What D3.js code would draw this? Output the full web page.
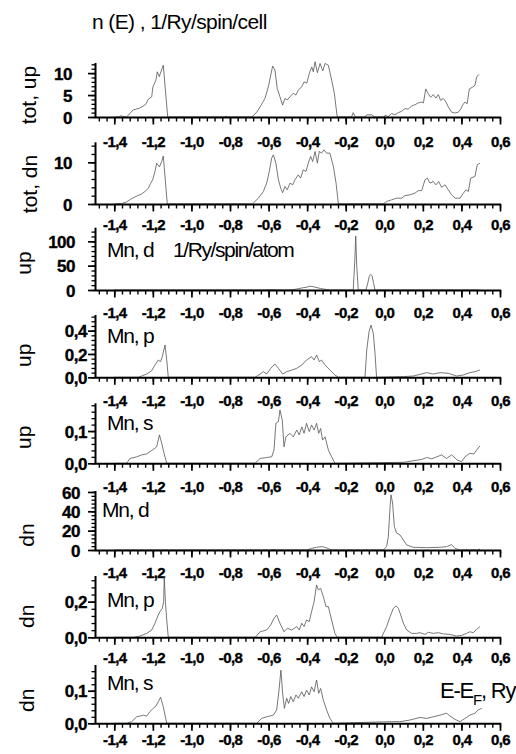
<!DOCTYPE html>
<html><head><meta charset="utf-8">
<script src="https://cdn.jsdelivr.net/npm/d3@7"></script>
<style>
body{margin:0;background:#fff}
svg{display:block}
text{font-family:"Liberation Sans",Arial,sans-serif;fill:#000}
</style>
</head><body>
<svg id="chart" width="516" height="754"></svg>
<script>
// ---------- data ----------
const xTicks = [-1.4,-1.2,-1.0,-0.8,-0.6,-0.4,-0.2,0.0,0.2,0.4,0.6];
const xMinorStep = 0.04;
const yTitles = ["tot, up","tot, dn","up","up","up","dn","dn","dn"];
const partLabels = ["","","Mn, d","Mn, p","Mn, s","Mn, d","Mn, p","Mn, s"];
const yMax = [12.3,14.8,128,0.534,0.186,61,0.344,0.179];
const yMajor = [[0,5,10],[0,10],[0,50,100],[0,0.2,0.4],[0,0.1],[0,20,40,60],[0,0.2],[0,0.1]];
const yMinorStep = [1,2,10,0.04,0.02,4,0.04,0.02];

const totUp = [[-1.40,0],[-1.375,0],[-1.368,0.3],[-1.355,0.1],[-1.336,0],[-1.303,1.6],[-1.27,2.0],[-1.25,2.5],[-1.235,3.0],[-1.225,4.0],[-1.206,4.6],[-1.20,6.8],[-1.184,8.4],[-1.177,10.3],[-1.167,9.2],[-1.146,11.8],[-1.123,0],[-0.83,0],[-0.82,0.15],[-0.81,0],[-0.686,0],[-0.66,1.2],[-0.644,2.3],[-0.619,4.2],[-0.601,6.9],[-0.579,11.6],[-0.567,10.7],[-0.555,6.5],[-0.541,4.6],[-0.527,2.7],[-0.515,4.2],[-0.503,3.9],[-0.489,4.6],[-0.472,5.4],[-0.458,5.0],[-0.446,6.1],[-0.428,6.9],[-0.416,8.0],[-0.402,7.7],[-0.389,9.9],[-0.376,11.4],[-0.368,10.3],[-0.359,12.6],[-0.347,10.1],[-0.333,12.2],[-0.319,10.5],[-0.307,12.2],[-0.29,11.8],[-0.273,8.4],[-0.259,5.4],[-0.244,0],[-0.17,0],[-0.161,1.0],[-0.15,0],[-0.10,0],[-0.091,0.5],[-0.065,0.5],[-0.05,0],[0.0,0],[0.004,0.4],[0.02,0.1],[0.038,0.8],[0.055,0.5],[0.073,1.0],[0.09,1.3],[0.107,1.9],[0.124,1.8],[0.142,2.5],[0.159,2.8],[0.176,3.2],[0.194,3.4],[0.203,3.2],[0.215,6.4],[0.228,5.3],[0.24,4.5],[0.254,5.1],[0.268,4.3],[0.28,5.1],[0.292,3.8],[0.306,4.2],[0.32,3.4],[0.332,2.3],[0.349,1.1],[0.367,0.9],[0.384,1.1],[0.398,1.9],[0.406,2.7],[0.418,3.4],[0.43,3.0],[0.441,6.4],[0.458,6.8],[0.47,7.2],[0.479,9.1],[0.491,9.7]];

const totDn = [[-1.40,0],[-1.362,0.1],[-1.336,0.5],[-1.31,1.3],[-1.284,1.9],[-1.258,2.4],[-1.241,3.0],[-1.223,3.8],[-1.211,5.0],[-1.201,5.8],[-1.189,7.8],[-1.18,9.8],[-1.166,8.9],[-1.154,10.2],[-1.146,11.5],[-1.125,0],[-0.684,0],[-0.653,1.4],[-0.627,3.0],[-0.61,5.0],[-0.596,7.8],[-0.584,11.0],[-0.575,11.8],[-0.562,9.8],[-0.549,5.8],[-0.537,3.8],[-0.527,2.7],[-0.515,4.2],[-0.503,3.4],[-0.489,5.0],[-0.475,4.6],[-0.463,5.8],[-0.446,7.0],[-0.434,6.2],[-0.42,8.2],[-0.406,7.8],[-0.394,9.8],[-0.382,11.4],[-0.371,10.2],[-0.359,12.6],[-0.347,9.8],[-0.337,12.6],[-0.325,12.2],[-0.313,13.0],[-0.299,12.2],[-0.282,12.2],[-0.264,9.0],[-0.25,5.0],[-0.238,0],[-0.005,0],[0.012,0.6],[0.038,1.0],[0.064,1.4],[0.09,1.4],[0.107,2.0],[0.133,2.2],[0.159,2.6],[0.176,3.2],[0.194,3.2],[0.211,5.8],[0.223,6.2],[0.237,5.0],[0.254,5.4],[0.268,4.6],[0.282,5.4],[0.297,4.0],[0.315,4.6],[0.332,3.4],[0.349,2.2],[0.367,1.4],[0.393,1.4],[0.41,2.6],[0.424,3.4],[0.436,3.0],[0.448,6.2],[0.47,6.6],[0.482,9.4],[0.496,9.8]];

const mnDUp = [[-1.40,0],[-0.62,0],[-0.60,0.8],[-0.57,0.5],[-0.55,0],[-0.49,0],[-0.46,1.5],[-0.43,4],[-0.40,6],[-0.385,8],[-0.36,6],[-0.33,3],[-0.30,1],[-0.282,0],[-0.161,0],[-0.153,60],[-0.148,111],[-0.143,50],[-0.135,0],[-0.095,0],[-0.085,15],[-0.078,28],[-0.071,32],[-0.063,29],[-0.056,15],[-0.048,0],[0.49,0]];

const mnPUp = [[-1.40,0],[-1.275,0],[-1.232,0.028],[-1.206,0.057],[-1.189,0.105],[-1.172,0.148],[-1.16,0.134],[-1.151,0.177],[-1.137,0.277],[-1.128,0.148],[-1.12,0],[-0.67,0],[-0.644,0.028],[-0.627,0.048],[-0.61,0.028],[-0.589,0.077],[-0.567,0.114],[-0.549,0.077],[-0.527,0.028],[-0.506,0.048],[-0.48,0.062],[-0.454,0.077],[-0.428,0.105],[-0.403,0.148],[-0.377,0.177],[-0.364,0.148],[-0.351,0.191],[-0.337,0.134],[-0.325,0.148],[-0.307,0.105],[-0.282,0.062],[-0.256,0.02],[-0.238,0],[-0.10,0],[-0.091,0.234],[-0.079,0.391],[-0.069,0.448],[-0.057,0.377],[-0.048,0.205],[-0.04,0],[0.099,0.006],[0.15,0.011],[0.22,0.04],[0.254,0.028],[0.289,0.04],[0.332,0.034],[0.375,0.011],[0.41,0.02],[0.444,0.04],[0.47,0.048],[0.496,0.062]];

const mnSUp = [[-1.40,0],[-1.336,0],[-1.319,0.015],[-1.284,0.02],[-1.258,0.026],[-1.232,0.029],[-1.215,0.036],[-1.198,0.043],[-1.18,0.051],[-1.166,0.088],[-1.154,0.062],[-1.142,0.031],[-1.128,0],[-0.67,0],[-0.644,0.015],[-0.61,0.018],[-0.584,0.02],[-0.572,0.041],[-0.562,0.124],[-0.549,0.129],[-0.541,0.165],[-0.529,0.134],[-0.52,0.051],[-0.51,0.082],[-0.489,0.093],[-0.472,0.082],[-0.454,0.103],[-0.441,0.088],[-0.428,0.113],[-0.416,0.093],[-0.403,0.124],[-0.389,0.098],[-0.377,0.119],[-0.364,0.103],[-0.351,0.124],[-0.34,0.093],[-0.33,0.108],[-0.32,0.072],[-0.307,0.082],[-0.29,0.041],[-0.273,0.02],[-0.256,0],[0.099,0.003],[0.15,0.008],[0.194,0.012],[0.22,0.018],[0.246,0.014],[0.272,0.02],[0.297,0.026],[0.323,0.015],[0.349,0.026],[0.379,0.01],[0.401,0.005],[0.418,0.02],[0.444,0.031],[0.465,0.029],[0.479,0.041],[0.496,0.054]];

const mnDDn = [[-1.40,0],[-0.59,0],[-0.575,0.6],[-0.56,0],[-0.403,0],[-0.377,1.7],[-0.351,2.8],[-0.325,3.5],[-0.307,2.8],[-0.29,1.4],[-0.273,0],[-0.005,0],[0.012,3.5],[0.021,13.9],[0.03,45],[0.035,57],[0.043,48.6],[0.052,24.3],[0.064,17.4],[0.081,15.6],[0.099,10.4],[0.116,5.2],[0.15,2.8],[0.22,2.4],[0.289,2.8],[0.323,3.5],[0.349,5.6],[0.367,1.7],[0.393,0],[0.479,0],[0.496,1]];

const mnPDn = [[-1.40,0],[-1.301,0],[-1.267,0.007],[-1.232,0.022],[-1.206,0.041],[-1.189,0.079],[-1.172,0.125],[-1.163,0.144],[-1.151,0.163],[-1.144,0.2],[-1.141,0.34],[-1.135,0.2],[-1.128,0.097],[-1.12,0],[-0.67,0],[-0.644,0.031],[-0.61,0.041],[-0.589,0.069],[-0.572,0.107],[-0.558,0.125],[-0.541,0.079],[-0.52,0.031],[-0.503,0.051],[-0.48,0.041],[-0.454,0.06],[-0.441,0.041],[-0.428,0.079],[-0.416,0.06],[-0.403,0.097],[-0.389,0.088],[-0.377,0.144],[-0.364,0.2],[-0.351,0.294],[-0.342,0.266],[-0.33,0.275],[-0.316,0.228],[-0.302,0.172],[-0.29,0.172],[-0.273,0.097],[-0.256,0.022],[-0.244,0],[-0.014,0],[0.012,0.06],[0.03,0.116],[0.047,0.163],[0.061,0.176],[0.073,0.163],[0.085,0.125],[0.099,0.079],[0.116,0.041],[0.142,0.022],[0.168,0.022],[0.185,0.026],[0.211,0.016],[0.228,0.028],[0.254,0.022],[0.28,0.026],[0.306,0.019],[0.341,0.016],[0.375,0.007],[0.401,0.011],[0.427,0.022],[0.444,0.031],[0.462,0.026],[0.479,0.045],[0.496,0.06]];

const mnSDn = [[-1.40,0],[-1.336,0],[-1.31,0.005],[-1.284,0.02],[-1.267,0.022],[-1.249,0.025],[-1.232,0.022],[-1.215,0.036],[-1.198,0.046],[-1.184,0.053],[-1.172,0.066],[-1.16,0.08],[-1.146,0.051],[-1.128,0],[-0.662,0],[-0.636,0.015],[-0.61,0.02],[-0.575,0.025],[-0.558,0.041],[-0.546,0.102],[-0.536,0.163],[-0.527,0.092],[-0.518,0.046],[-0.506,0.077],[-0.496,0.061],[-0.485,0.082],[-0.472,0.066],[-0.458,0.087],[-0.446,0.077],[-0.428,0.097],[-0.416,0.082],[-0.403,0.102],[-0.389,0.087],[-0.377,0.112],[-0.364,0.097],[-0.351,0.133],[-0.34,0.092],[-0.33,0.107],[-0.316,0.071],[-0.299,0.041],[-0.282,0.015],[-0.264,0],[0.03,0.005],[0.081,0.005],[0.133,0.01],[0.185,0.018],[0.22,0.015],[0.254,0.02],[0.289,0.025],[0.323,0.031],[0.341,0.022],[0.367,0.012],[0.393,0.005],[0.418,0.015],[0.444,0.025],[0.47,0.031],[0.487,0.041],[0.505,0.046]];

const series = [totUp, totDn, mnDUp, mnPUp, mnSUp, mnDDn, mnPDn, mnSDn];

// ---------- layout ----------
const axisX = 95, axisRight = 500;
const baselines = [117,204,290,377.3,463.3,550,637.3,723.3];
const tops = [63,142.3,227.7,315,403.3,491,576,665];
const yLabelRight = [72,72,75,87,87,80,87,87];
const yTitleX = [36,37,31,31,31,34,34,34];
const yTitleDy = [-22,-20,-27,-22,-26,-15,-21,-23];
const xLabelDy = [30,26,28,28.7,28.4,28.3,26,21.7];
const partLabelDy = [0,0,33,34,33,33,30,33];
const FONT = '"Liberation Sans",Arial,sans-serif';

const svg = d3.select("#chart");
const x = d3.scaleLinear().domain([-1.5, 0.6]).range([axisX, axisRight]);

function fmt(v) {
  const s = Math.abs(v) < 1e-9 ? "0.0" : d3.format(".1f")(v);
  return s.replace("−","-").replace(".", ",");
}
function fmtY(v, i) {
  if (yMinorStep[i] < 1) return fmt(v);
  return String(v);
}
function minorVals(max, step) {
  const out = [];
  const n = Math.floor(max / step + 1e-6);
  for (let k = 0; k <= n; k++) out.push(+(k * step).toFixed(6));
  return out;
}
const xMinor = [];
for (let k = 0; k <= 52; k++) xMinor.push(+(-1.48 + k * xMinorStep).toFixed(4));

series.forEach((data, i) => {
  const y = d3.scaleLinear().domain([0, yMax[i]]).range([baselines[i], tops[i]]);
  const g = svg.append("g");

  // curve
  g.append("path")
    .datum(data)
    .attr("fill", "none")
    .attr("stroke", "#555")
    .attr("stroke-width", 0.8)
    .attr("d", d3.line().x(d => x(d[0])).y(d => y(d[1])));

  // x minor ticks
  const xm = g.append("g").attr("transform", `translate(0,${baselines[i]})`)
    .call(d3.axisBottom(x).tickValues(xMinor).tickSize(4.5).tickSizeOuter(0).tickFormat(""));
  xm.select(".domain").remove();
  xm.selectAll("line").attr("stroke", "#000").attr("stroke-width", 1.4);

  // x major axis
  const xa = g.append("g").attr("transform", `translate(0,${baselines[i]})`)
    .call(d3.axisBottom(x).tickValues(xTicks).tickSize(7.5).tickSizeOuter(0).tickFormat(fmt));
  xa.select(".domain").attr("stroke", "#000").attr("stroke-width", 2)
    .attr("d", `M${axisX},0.5H${axisRight + 1}`);
  xa.selectAll("line").attr("stroke", "#000").attr("stroke-width", 1.7);
  xa.selectAll("text").attr("y", xLabelDy[i]).attr("dy", null)
    .attr("font-size", 15).attr("font-weight", "bold").attr("letter-spacing", -0.6)
    .attr("stroke", "#000").attr("stroke-width", 0.35)
    .attr("font-family", FONT).attr("fill", "#000");

  // y minor ticks
  const ym = g.append("g").attr("transform", `translate(${axisX},0)`)
    .call(d3.axisLeft(y).tickValues(minorVals(yMax[i], yMinorStep[i])).tickSize(3.5).tickSizeOuter(0).tickFormat(""));
  ym.select(".domain").remove();
  ym.selectAll("line").attr("stroke", "#000").attr("stroke-width", 1.3);

  // y major axis
  const ya = g.append("g").attr("transform", `translate(${axisX},0)`)
    .call(d3.axisLeft(y).tickValues(yMajor[i]).tickSize(7).tickSizeOuter(0).tickFormat(v => fmtY(v, i)));
  ya.select(".domain").attr("stroke", "#000").attr("stroke-width", 2)
    .attr("d", `M0.5,${baselines[i]}V${tops[i]}`);
  ya.selectAll("line").attr("stroke", "#000").attr("stroke-width", 1.7);
  ya.selectAll("text").attr("x", yLabelRight[i] - axisX).attr("dy", "0.36em")
    .attr("text-anchor", "end")
    .attr("font-size", 17).attr("font-weight", "bold").attr("letter-spacing", -0.5)
    .attr("stroke", "#000").attr("stroke-width", 0.35)
    .attr("font-family", FONT).attr("fill", "#000");

  // y title
  const cy = baselines[i] + yTitleDy[i];
  svg.append("text")
    .attr("transform", `translate(${yTitleX[i]},${cy}) rotate(-90)`)
    .attr("text-anchor", "middle")
    .attr("font-size", 21)
    .text(yTitles[i]);

  // part label
  if (partLabels[i]) {
    svg.append("text")
      .attr("x", i === 5 ? 102 : 107)
      .attr("y", baselines[i] - partLabelDy[i])
      .attr("font-size", 21).attr("letter-spacing", -1.2)
      .text(partLabels[i]);
  }
});

// title
svg.append("text").attr("x", 92).attr("y", 29)
  .attr("font-size", 21).attr("letter-spacing", -0.6)
  .text("n (E)  , 1/Ry/spin/cell");

// Mn d unit label
svg.append("text").attr("x", 173).attr("y", 257)
  .attr("font-size", 21).attr("letter-spacing", -1.4)
  .text("1/Ry/spin/atom");

// E - EF label
const el = svg.append("text").attr("x", 440).attr("y", 698)
  .attr("font-size", 22).attr("letter-spacing", -1.2);
el.append("tspan").text("E-E");
el.append("tspan").attr("font-size", 15).attr("dy", 7).text("F");
el.append("tspan").attr("dy", -7).text(", Ry");
</script>
</body></html>
